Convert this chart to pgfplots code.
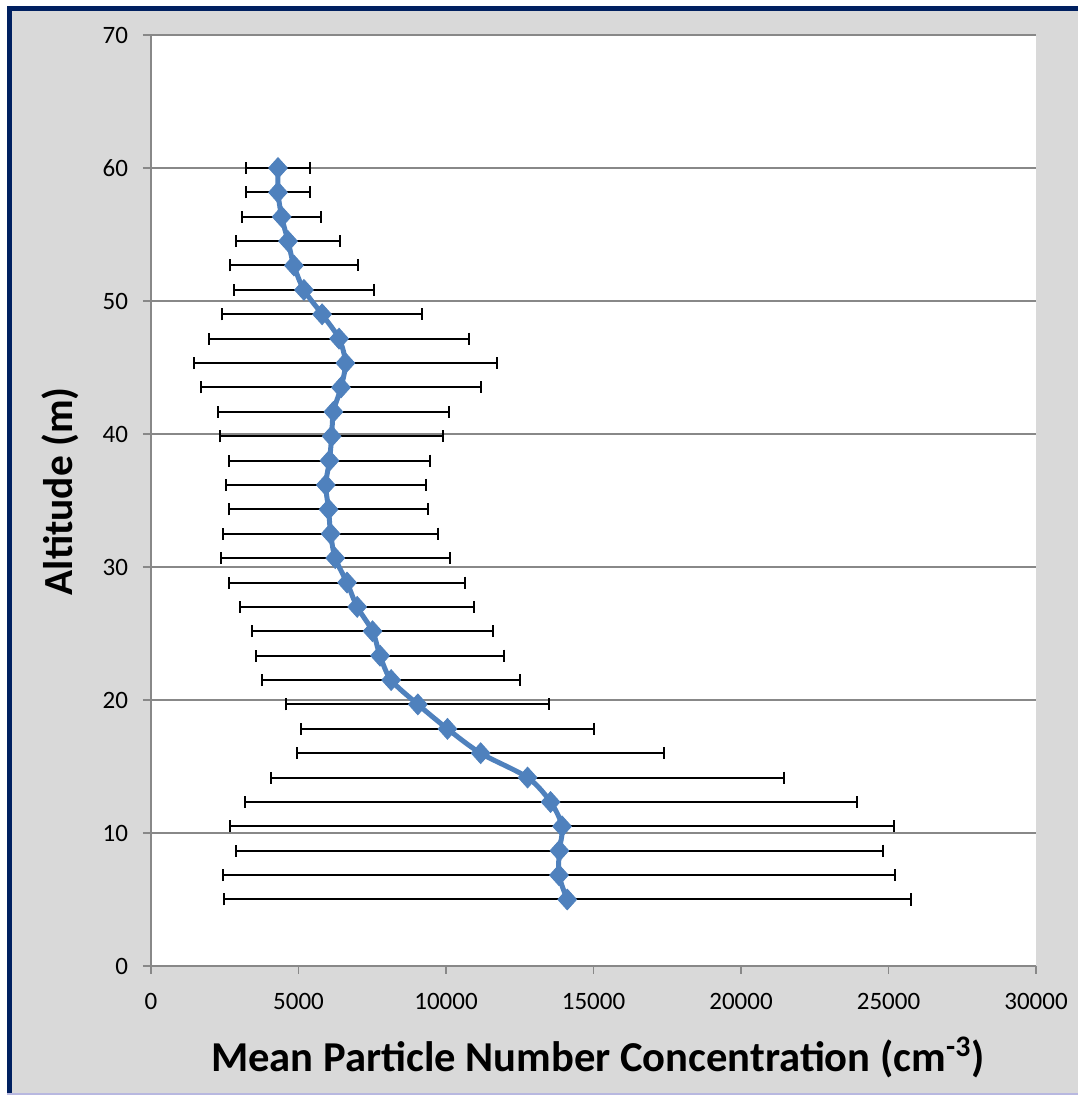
\documentclass[border=0pt]{standalone}
\usepackage{fontspec}
\setmainfont{Carlito}
\usepackage{pgfplots}
\usepackage{pgfplotstable}
\pgfplotsset{compat=1.18}

\definecolor{navyframe}{HTML}{002060}
\definecolor{panel}{HTML}{D9D9D9}
\definecolor{gridgray}{HTML}{888888}
\definecolor{series}{HTML}{4F81BD}

% altitude (m), mean concentration (cm^-3), half width of the bar
\pgfplotstableread{
alt   mean   err
5.00  14110  11640
6.83  13830  11390
8.67  13845  10975
10.50 13935  11245
12.33 13545  10375
14.17 12765  8685
16.00 11175  6225
17.83 10050  4980
19.67 9045   4455
21.50 8140   4370
23.33 7765   4205
25.17 7510   4100
27.00 6990   3970
28.83 6645   3995
30.67 6245   3875
32.50 6090   3650
34.33 6020   3380
36.17 5925   3385
38.00 6050   3410
39.83 6125   3785
41.67 6185   3905
43.50 6440   4730
45.33 6590   5140
47.17 6375   4395
49.00 5800   3380
50.83 5185   2385
52.67 4845   2165
54.50 4645   1765
56.33 4430   1330
58.17 4305   1095
60.00 4305   1085
}\profile

\begin{document}
\begin{tikzpicture}
\path[use as bounding box] (-75.5pt,-64.5pt) rectangle (463.5pt,483pt);
\fill[panel] (-69.5pt,-63.5pt) rectangle (463.5pt,477.5pt);
\fill[navyframe] (-72pt,-63.5pt) rectangle (-69.5pt,480pt);
\fill[navyframe] (-72pt,477.5pt) rectangle (463.5pt,480pt);
\fill[gray!60!blue!40] (-72pt,-64.5pt) rectangle (463.5pt,-63.5pt);

\begin{axis}[
  scale only axis,
  width=442.5pt, height=465.5pt,
  at={(0,0)}, anchor=south west,
  axis background/.style={fill=white},
  xmin=0, xmax=30000,
  ymin=0, ymax=70,
  xtick={0,5000,...,30000},
  ytick={0,10,...,70},
  scaled x ticks=false,
  /pgf/number format/1000 sep={},
  /pgf/number format/assume math mode=true,
  axis lines*=left,
  axis line style={gridgray, line width=0.75pt},
  ymajorgrids,
  major grid style={gridgray, line width=0.75pt},
  tick align=outside,
  major tick length=4pt,
  tick style={gridgray, line width=0.75pt},
  tick label style={font=\fontsize{12.5}{15}\selectfont, black},
  xticklabel style={anchor=base, yshift=-18pt},
  yticklabel style={anchor=east, xshift=-4pt},
  xlabel={Mean Particle Number Concentration (cm\textsuperscript{-3})},
  xlabel style={at={(axis description cs:0.505,0)}, anchor=center,
    yshift=-45.5pt, font=\fontsize{21.3}{25}\selectfont\bfseries},
  ylabel={Altitude (m)},
  ylabel style={at={(axis description cs:-0.1028,0.510)}, anchor=center,
    font=\fontsize{20.7}{25}\selectfont\bfseries},
]
\addplot[series, line width=2.5pt, smooth,
  mark=diamond*, mark size=5.2pt,
  mark options={xscale=1.2, fill=series, draw=series, line width=0.4pt},
  error bars/.cd, x dir=both, x explicit,
  error bar style={black, line width=1pt},
  error mark options={black, line width=1pt, mark size=3pt, rotate=90}]
  table[x=mean, y=alt, x error=err] {\profile};
\end{axis}
\end{tikzpicture}
\end{document}
